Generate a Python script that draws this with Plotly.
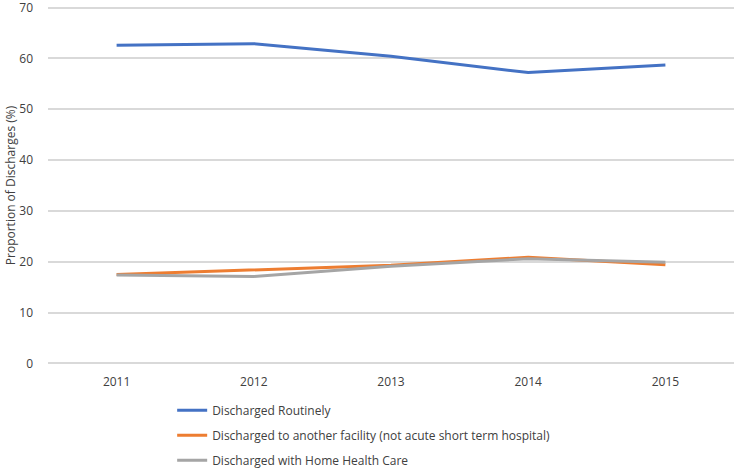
import plotly.graph_objects as go

years = ["2011", "2012", "2013", "2014", "2015"]
routine = [62.6, 62.9, 60.4, 57.2, 58.7]
facility = [17.5, 18.4, 19.3, 20.9, 19.4]
home = [17.4, 17.1, 19.1, 20.6, 19.9]
names = ["Discharged Routinely",
         "Discharged to another facility (not acute short term hospital)",
         "Discharged with Home Health Care"]
colors = ["#4472C4", "#ED7D31", "#A5A5A5"]
yticks = [0, 10, 20, 30, 40, 50, 60, 70]

fig = go.Figure()
for i, (vals, nm, c) in enumerate(zip([routine, facility, home], names, colors)):
    fig.add_trace(go.Scatter(x=years, y=vals, mode="lines", name=nm,
                             line=dict(color=c, width=3), legendgroup=str(i)))

fig.update_layout(
    width=737, height=471,
    margin=dict(l=48, r=3, t=6, b=106, autoexpand=False),
    paper_bgcolor="white", plot_bgcolor="white",
    font=dict(family="Open Sans, sans-serif", size=12, color="#404040"),
    xaxis=dict(type="category", range=[-0.5, 4.5], showgrid=False, showline=False,
               ticks="", ticklabelstandoff=8, automargin=False,
               tickfont=dict(size=12, color="#404040")),
    yaxis=dict(range=[-0.3, 70.3], tickvals=yticks, showgrid=True, gridcolor="#D9D9D9",
               gridwidth=1.5, zeroline=False, showline=False,
               ticklabelstandoff=14, ticklabeloverflow="allow", automargin=False,
               tickfont=dict(size=12, color="#404040"),
               title=dict(text="Proportion of Discharges (%)", standoff=0,
                          font=dict(size=12, color="#404040"))),
    legend=dict(orientation="v", x=0.181, xanchor="left", y=-0.086, yanchor="top",
                tracegroupgap=6, font=dict(size=12, color="#404040"),
                bgcolor="rgba(0,0,0,0)"),
    showlegend=True,
)
fig.write_html("out.html", config={"displayModeBar": False},
               post_script="document.body.style.margin='0px';document.body.style.overflow='hidden';")
